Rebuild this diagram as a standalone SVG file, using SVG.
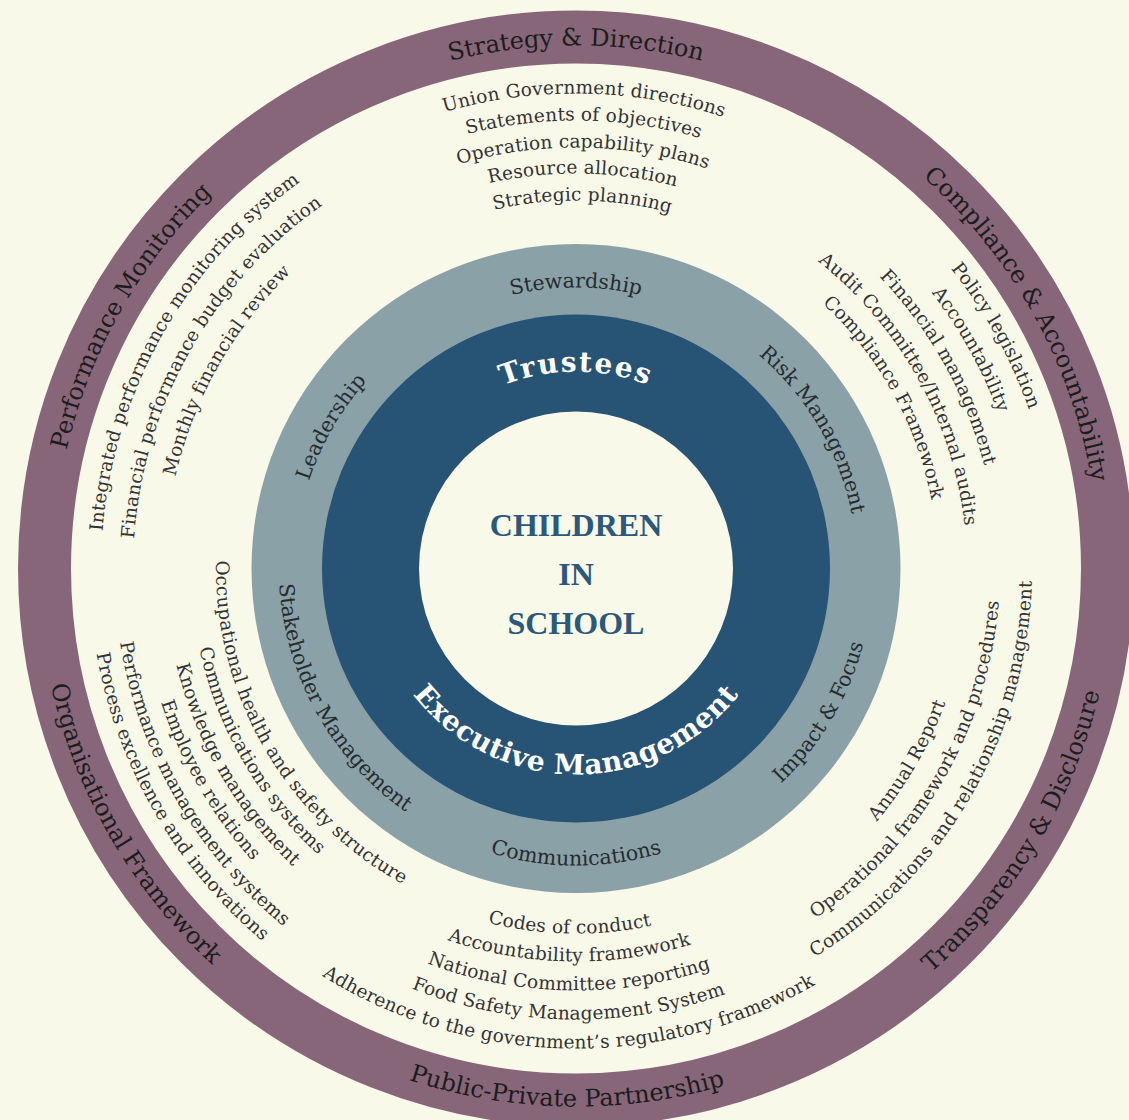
<svg xmlns="http://www.w3.org/2000/svg" xmlns:xlink="http://www.w3.org/1999/xlink" width="1129" height="1120" viewBox="0 0 1129 1120">
  <style>
    .item { font-family: "DejaVu Serif", "Liberation Serif", serif; font-size: 18.5px; letter-spacing: 0.2px; fill: #333333; }
    .title { font-family: "DejaVu Serif", "Liberation Serif", serif; font-size: 24px; fill: #1c1c1c; }
    .band { font-family: "DejaVu Serif", "Liberation Serif", serif; font-size: 20.5px; fill: #262b2e; }
    .lead { font-family: "DejaVu Serif", "Liberation Serif", serif; font-weight: bold; font-size: 28px; fill: #ffffff; }
    .core { font-family: "Liberation Serif", "DejaVu Serif", serif; font-weight: bold; font-size: 32px; fill: #2b587c; text-anchor: middle; }
    textPath { text-anchor: middle; }
  </style>
  <defs>
    <!-- circles around the origin: "w" run clockwise with their midpoint at the top,
         "c" run counter-clockwise with their midpoint at the bottom -->
    <path id="w523" d="M0,523 A523,523 0 1 1 0,-523 A523,523 0 1 1 0,523"/>
    <path id="w480" d="M0,480 A480,480 0 1 1 0,-480 A480,480 0 1 1 0,480"/>
    <path id="w475" d="M0,475 A475,475 0 1 1 0,-475 A475,475 0 1 1 0,475"/>
    <path id="w450" d="M0,450 A450,450 0 1 1 0,-450 A450,450 0 1 1 0,450"/>
    <path id="w448" d="M0,448 A448,448 0 1 1 0,-448 A448,448 0 1 1 0,448"/>
    <path id="w443" d="M0,443 A443,443 0 1 1 0,-443 A443,443 0 1 1 0,443"/>
    <path id="w421" d="M0,421 A421,421 0 1 1 0,-421 A421,421 0 1 1 0,421"/>
    <path id="w411" d="M0,411 A411,411 0 1 1 0,-411 A411,411 0 1 1 0,411"/>
    <path id="w395" d="M0,395 A395,395 0 1 1 0,-395 A395,395 0 1 1 0,395"/>
    <path id="w391" d="M0,391 A391,391 0 1 1 0,-391 A391,391 0 1 1 0,391"/>
    <path id="w368" d="M0,368 A368,368 0 1 1 0,-368 A368,368 0 1 1 0,368"/>
    <path id="w362" d="M0,362 A362,362 0 1 1 0,-362 A362,362 0 1 1 0,362"/>
    <path id="w281" d="M0,281 A281,281 0 1 1 0,-281 A281,281 0 1 1 0,281"/>
    <path id="w197" d="M0,197 A197,197 0 1 1 0,-197 A197,197 0 1 1 0,197"/>

    <path id="c538" d="M0,-538 A538,538 0 1 0 0,538 A538,538 0 1 0 0,-538"/>
    <path id="c487" d="M0,-487 A487,487 0 1 0 0,487 A487,487 0 1 0 0,-487"/>
    <path id="c480" d="M0,-480 A480,480 0 1 0 0,480 A480,480 0 1 0 0,-480"/>
    <path id="c462" d="M0,-462 A462,462 0 1 0 0,462 A462,462 0 1 0 0,-462"/>
    <path id="c456" d="M0,-456 A456,456 0 1 0 0,456 A456,456 0 1 0 0,-456"/>
    <path id="c451" d="M0,-451 A451,451 0 1 0 0,451 A451,451 0 1 0 0,-451"/>
    <path id="c436" d="M0,-436 A436,436 0 1 0 0,436 A436,436 0 1 0 0,-436"/>
    <path id="c424" d="M0,-424 A424,424 0 1 0 0,424 A424,424 0 1 0 0,-424"/>
    <path id="c422" d="M0,-422 A422,422 0 1 0 0,422 A422,422 0 1 0 0,-422"/>
    <path id="c411" d="M0,-411 A411,411 0 1 0 0,411 A411,411 0 1 0 0,-411"/>
    <path id="c393" d="M0,-393 A393,393 0 1 0 0,393 A393,393 0 1 0 0,-393"/>
    <path id="c385" d="M0,-385 A385,385 0 1 0 0,385 A385,385 0 1 0 0,-385"/>
    <path id="c365" d="M0,-365 A365,365 0 1 0 0,365 A365,365 0 1 0 0,-365"/>
    <path id="c360" d="M0,-360 A360,360 0 1 0 0,360 A360,360 0 1 0 0,-360"/>
    <path id="c297" d="M0,-297 A297,297 0 1 0 0,297 A297,297 0 1 0 0,-297"/>
    <path id="c206" d="M0,-206 A206,206 0 1 0 0,206 A206,206 0 1 0 0,-206"/>
  </defs>

  <rect width="1129" height="1120" fill="#f9f9e9"/>

  <!-- rings -->
  <g id="rings" transform="translate(576 568.5)">
    <circle r="531.5" fill="none" stroke="#876679" stroke-width="53"/>
    <circle r="324.5" fill="#8aa1a8"/>
    <circle r="254" fill="#275375"/>
    <circle r="157" fill="#f9f9e9"/>
  </g>

  <g id="connectors"/>

  <!-- top: Strategy & Direction -->
  <g id="strategy-direction">
    <text class="title" transform="translate(576 568.5) rotate(0)"><textPath href="#w523" xlink:href="#w523" startOffset="50%">Strategy &amp; Direction</textPath></text>
    <g class="item" transform="translate(576 568.5) rotate(1)">
      <text><textPath href="#w475" xlink:href="#w475" startOffset="50%">Union Government directions</textPath></text>
      <text><textPath href="#w448" xlink:href="#w448" startOffset="50%">Statements of objectives</textPath></text>
      <text><textPath href="#w421" xlink:href="#w421" startOffset="50%">Operation capability plans</textPath></text>
      <text><textPath href="#w395" xlink:href="#w395" startOffset="50%">Resource allocation</textPath></text>
      <text><textPath href="#w368" xlink:href="#w368" startOffset="50%">Strategic planning</textPath></text>
    </g>
  </g>

  <!-- upper right: Compliance & Accountability -->
  <g id="compliance-accountability">
    <text class="title" transform="translate(576 568.5) rotate(61)"><textPath href="#w523" xlink:href="#w523" startOffset="50%">Compliance &amp; Accountability</textPath></text>
    <g class="item" transform="translate(576 568.5) rotate(61)">
      <text><textPath href="#w480" xlink:href="#w480" startOffset="50%">Policy legislation</textPath></text>
      <text><textPath href="#w450" xlink:href="#w450" startOffset="50%">Accountability</textPath></text>
      <text><textPath href="#w421" xlink:href="#w421" startOffset="50%">Financial management</textPath></text>
      <text><textPath href="#w391" xlink:href="#w391" startOffset="50%">Audit Committee/Internal audits</textPath></text>
      <text><textPath href="#w362" xlink:href="#w362" startOffset="50%">Compliance Framework</textPath></text>
    </g>
  </g>

  <!-- lower right: Transparency & Disclosure -->
  <g id="transparency-disclosure">
    <text class="title" transform="translate(576 568.5) rotate(-59)"><textPath href="#c538" xlink:href="#c538" startOffset="50%">Transparency &amp; Disclosure</textPath></text>
    <g class="item" transform="translate(576 568.5) rotate(-60)">
      <text><textPath href="#c393" xlink:href="#c393" startOffset="50%">Annual Report</textPath></text>
      <text><textPath href="#c424" xlink:href="#c424" startOffset="50%">Operational framework and procedures</textPath></text>
      <text><textPath href="#c456" xlink:href="#c456" startOffset="50%">Communications and relationship management</textPath></text>
    </g>
  </g>

  <!-- bottom: Public-Private Partnership -->
  <g id="public-private-partnership">
    <text class="title" transform="translate(576 568.5) rotate(1)"><textPath href="#c538" xlink:href="#c538" startOffset="50%">Public-Private Partnership</textPath></text>
    <g class="item" transform="translate(576 568.5) rotate(1)">
      <text><textPath href="#c365" xlink:href="#c365" startOffset="50%">Codes of conduct</textPath></text>
      <text><textPath href="#c393" xlink:href="#c393" startOffset="50%">Accountability framework</textPath></text>
      <text><textPath href="#c422" xlink:href="#c422" startOffset="50%">National Committee reporting</textPath></text>
      <text><textPath href="#c451" xlink:href="#c451" startOffset="50%">Food Safety Management System</textPath></text>
      <text><textPath href="#c480" xlink:href="#c480" startOffset="50%">Adherence to the government’s regulatory framework</textPath></text>
    </g>
  </g>

  <!-- lower left: Organisational Framework -->
  <g id="organisational-framework">
    <text class="title" transform="translate(576 568.5) rotate(60)"><textPath href="#c538" xlink:href="#c538" startOffset="50%">Organisational Framework</textPath></text>
    <g class="item" transform="translate(576 568.5) rotate(60)">
      <text><textPath href="#c360" xlink:href="#c360" startOffset="50%">Occupational health and safety structure</textPath></text>
      <text><textPath href="#c385" xlink:href="#c385" startOffset="50%">Communications systems</textPath></text>
      <text><textPath href="#c411" xlink:href="#c411" startOffset="50%">Knowledge management</textPath></text>
      <text><textPath href="#c436" xlink:href="#c436" startOffset="50%">Employee relations</textPath></text>
      <text><textPath href="#c462" xlink:href="#c462" startOffset="50%">Performance management systems</textPath></text>
      <text><textPath href="#c487" xlink:href="#c487" startOffset="50%">Process excellence and innovations</textPath></text>
    </g>
  </g>

  <!-- upper left: Performance Monitoring -->
  <g id="performance-monitoring">
    <text class="title" transform="translate(576 568.5) rotate(-60.5)"><textPath href="#w523" xlink:href="#w523" startOffset="50%">Performance Monitoring</textPath></text>
    <g class="item" transform="translate(576 568.5) rotate(-60.5)">
      <text><textPath href="#w475" xlink:href="#w475" startOffset="50%">Integrated performance monitoring system</textPath></text>
      <text><textPath href="#w443" xlink:href="#w443" startOffset="50%">Financial performance budget evaluation</textPath></text>
      <text><textPath href="#w411" xlink:href="#w411" startOffset="50%">Monthly financial review</textPath></text>
    </g>
  </g>

  <!-- middle band labels -->
  <g id="middle-band" class="band">
    <text transform="translate(576 568.5) rotate(0)"><textPath href="#w281" xlink:href="#w281" startOffset="50%">Stewardship</textPath></text>
    <text transform="translate(576 568.5) rotate(59.7)"><textPath href="#w281" xlink:href="#w281" startOffset="50%">Risk Management</textPath></text>
    <text transform="translate(576 568.5) rotate(-59.5)"><textPath href="#c297" xlink:href="#c297" startOffset="50%">Impact &amp; Focus</textPath></text>
    <text transform="translate(576 568.5) rotate(0)"><textPath href="#c297" xlink:href="#c297" startOffset="50%">Communications</textPath></text>
    <text transform="translate(576 568.5) rotate(61)"><textPath href="#c297" xlink:href="#c297" startOffset="50%">Stakeholder Management</textPath></text>
    <text transform="translate(576 568.5) rotate(-60)"><textPath href="#w281" xlink:href="#w281" startOffset="50%">Leadership</textPath></text>
  </g>

  <!-- inner band: governance -->
  <g id="governance">
    <text class="lead" letter-spacing="2" transform="translate(576 568.5)"><textPath href="#w197" xlink:href="#w197" startOffset="50%">Trustees</textPath></text>
    <text class="lead" letter-spacing="0.5" transform="translate(576 568.5)"><textPath href="#c206" xlink:href="#c206" startOffset="50%">Executive Management</textPath></text>
  </g>

  <!-- core -->
  <g id="core">
    <text class="core" x="576" y="536">CHILDREN</text>
    <text class="core" x="576" y="585">IN</text>
    <text class="core" x="576" y="634">SCHOOL</text>
  </g>
</svg>
